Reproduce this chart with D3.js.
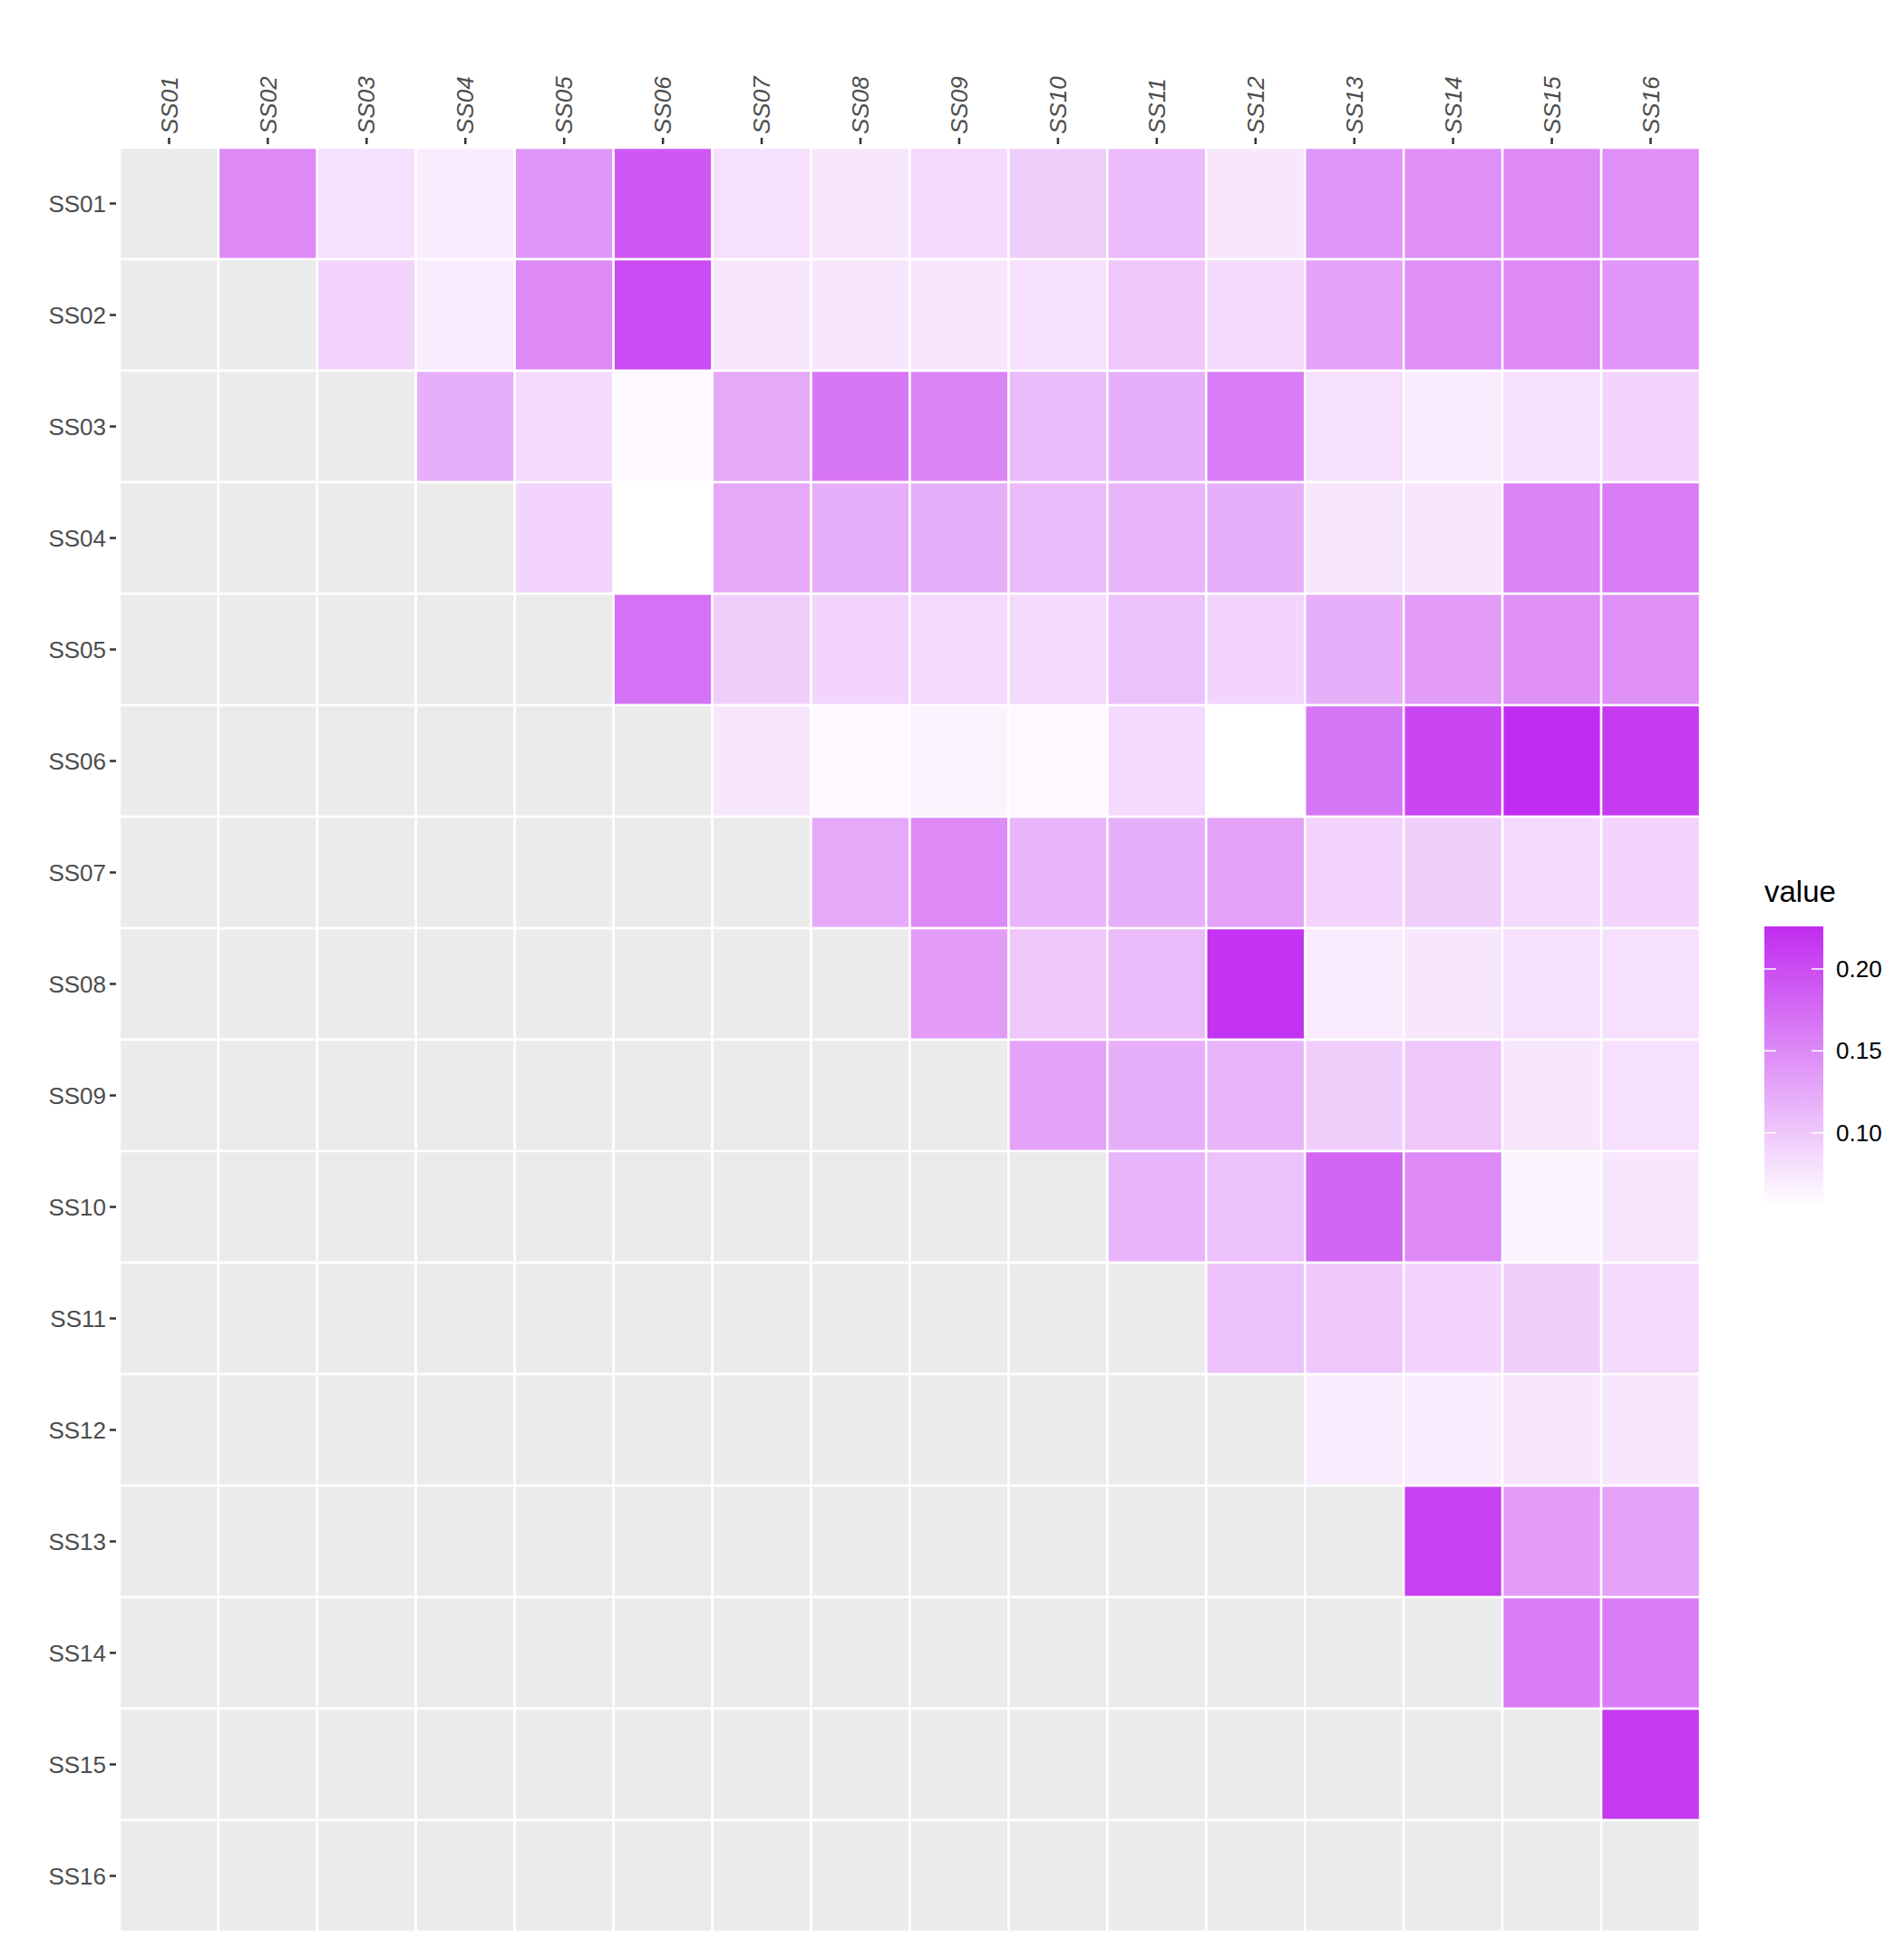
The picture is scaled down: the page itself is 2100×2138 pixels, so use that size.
<!DOCTYPE html>
<html><head><meta charset="utf-8">
<script src="https://cdn.jsdelivr.net/npm/d3@7"></script>
<style>body{margin:0;background:#fff}</style></head>
<body><svg id="c" width="2100" height="2138"></svg>
<script>
const labels=["SS01","SS02","SS03","SS04","SS05","SS06","SS07","SS08","SS09","SS10","SS11","SS12","SS13","SS14","SS15","SS16"];
// upper-triangle values: row i, columns i+1..16
const r01=[0.15,0.08,0.07,0.14,0.19,0.08,0.075,0.085,0.095,0.11,0.075,0.14,0.145,0.15,0.145];
const r02=[0.09,0.07,0.15,0.20,0.075,0.075,0.075,0.08,0.10,0.085,0.13,0.145,0.15,0.14];
const r03=[0.12,0.085,0.06,0.125,0.165,0.155,0.11,0.12,0.16,0.08,0.07,0.08,0.09];
const r04=[0.09,0.055,0.125,0.12,0.12,0.11,0.115,0.12,0.075,0.075,0.155,0.16];
const r05=[0.17,0.095,0.09,0.085,0.085,0.105,0.09,0.12,0.135,0.145,0.145];
const r06=[0.075,0.06,0.065,0.06,0.085,0.055,0.165,0.205,0.225,0.215];
const r07=[0.125,0.15,0.115,0.12,0.13,0.09,0.095,0.085,0.09];
const r08=[0.135,0.10,0.11,0.22,0.07,0.075,0.08,0.08];
const r09=[0.13,0.12,0.115,0.095,0.10,0.075,0.08];
const r10=[0.115,0.105,0.18,0.15,0.065,0.075];
const r11=[0.105,0.10,0.09,0.095,0.085];
const r12=[0.07,0.07,0.075,0.075];
const r13=[0.21,0.135,0.13];
const r14=[0.16,0.16];
const r15=[0.215];
const rows=[r01,r02,r03,r04,r05,r06,r07,r08,r09,r10,r11,r12,r13,r14,r15];
const legendTicks=[0.10,0.15,0.20];
const vmin=0.055,vmax=0.226;

const svg=d3.select("#c");
const L=132,R=1875,T=163,B=2131;
const x=d3.scaleBand().domain(labels).range([L,R]);
const y=d3.scaleBand().domain(labels).range([T,B]);
const color=d3.scaleLinear().domain([vmin,vmax]).range(["#ffffff","#c12cf0"]).clamp(true);
const cells=[];
labels.forEach((a,i)=>labels.forEach((b,j)=>{
  cells.push({r:a,c:b,v:(j>i)?rows[i][j-i-1]:null});
}));
svg.append("rect").attr("x",L).attr("y",T).attr("width",R-L).attr("height",B-T).attr("fill","#ebebeb");
svg.selectAll("rect.cell").data(cells).join("rect").attr("class","cell")
 .attr("x",d=>x(d.c)).attr("y",d=>y(d.r)).attr("width",x.bandwidth()).attr("height",y.bandwidth())
 .attr("fill",d=>d.v==null?"#ebebeb":color(d.v)).attr("stroke","#ffffff").attr("stroke-width",2.5);

const fs=26;
// y axis
labels.forEach(l=>{
  const cy=y(l)+y.bandwidth()/2;
  svg.append("line").attr("x1",L-11).attr("x2",L-4).attr("y1",cy).attr("y2",cy).attr("stroke","#333").attr("stroke-width",2.5);
  svg.append("text").attr("x",L-15).attr("y",cy).attr("dy","0.35em").attr("text-anchor","end")
   .attr("font-family","Arial, Liberation Sans, sans-serif").attr("font-size",fs).attr("fill","#4d4d4d").text(l);
});
// x axis top
labels.forEach(l=>{
  const cx=x(l)+x.bandwidth()/2;
  svg.append("line").attr("x1",cx).attr("x2",cx).attr("y1",T-4).attr("y2",T-11).attr("stroke","#333").attr("stroke-width",2.5);
  svg.append("text").attr("transform",`translate(${cx},${T-15}) rotate(-90)`).attr("dy","0.35em")
   .attr("font-family","Arial, Liberation Sans, sans-serif").attr("font-style","italic").attr("font-size",fs).attr("fill","#4d4d4d").text(l);
});
// legend
const lx=1946,lw=65,ly0=1022,ly1=1331;
const ls=d3.scaleLinear().domain([vmin,vmax]).range([ly1,ly0]);
svg.append("text").attr("x",lx).attr("y",995).attr("font-family","Arial, Liberation Sans, sans-serif").attr("font-size",33).attr("fill","#000").text("value");
const defs=svg.append("defs");
const g=defs.append("linearGradient").attr("id","lg").attr("x1",0).attr("x2",0).attr("y1",1).attr("y2",0);
g.append("stop").attr("offset","0%").attr("stop-color",color(vmin));
g.append("stop").attr("offset","100%").attr("stop-color",color(vmax));
svg.append("rect").attr("x",lx).attr("y",ly0).attr("width",lw).attr("height",ly1-ly0).attr("fill","url(#lg)");
legendTicks.forEach(t=>{
  const ty=ls(t);
  svg.append("line").attr("x1",lx).attr("x2",lx+13).attr("y1",ty).attr("y2",ty).attr("stroke","#fff").attr("stroke-width",1.5);
  svg.append("line").attr("x1",lx+lw-13).attr("x2",lx+lw).attr("y1",ty).attr("y2",ty).attr("stroke","#fff").attr("stroke-width",1.5);
  svg.append("text").attr("x",lx+lw+14).attr("y",ty).attr("dy","0.35em").attr("font-family","Arial, Liberation Sans, sans-serif").attr("font-size",fs).attr("fill","#000").text(t.toFixed(2));
});
</script></body></html>
